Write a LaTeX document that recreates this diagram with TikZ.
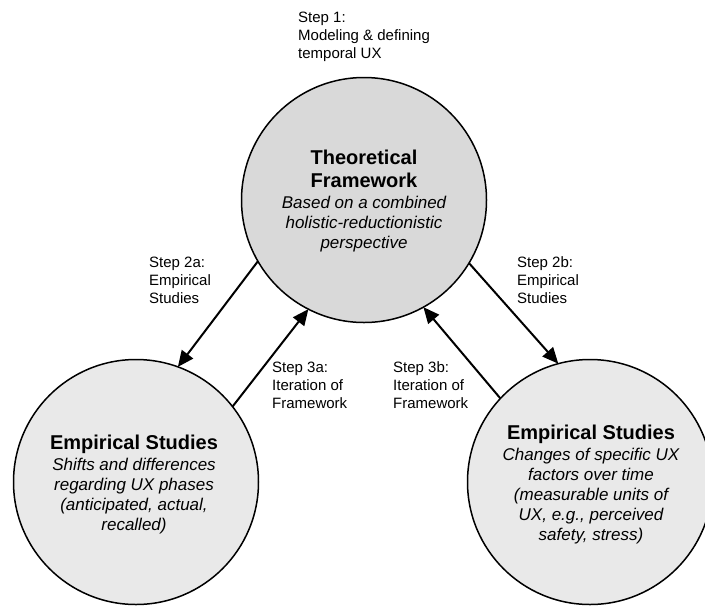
\documentclass[tikz,border=0pt]{standalone}
\usepackage{fontspec}
\setmainfont{Liberation Sans}
\usetikzlibrary{arrows.meta}
\definecolor{topfill}{RGB}{217,217,217}
\definecolor{botfill}{RGB}{233,233,233}
\begin{document}
\begin{tikzpicture}[x=1pt,y=-1pt,
  circ/.style={circle, draw=black, line width=1.5pt, minimum size=245pt, inner sep=0pt, outer sep=0pt},
  steplbl/.style={anchor=north west, inner sep=0pt, align=left, font=\fontsize{15}{18}\selectfont},
  ttl/.style={anchor=north, inner sep=0pt, align=center, font=\fontsize{20}{23}\selectfont\bfseries},
  desc/.style={anchor=north, inner sep=0pt, align=center, font=\fontsize{17}{20}\selectfont\itshape},
  arr/.style={line width=2pt, -{Triangle[length=16pt,width=14pt]}}]
\useasboundingbox (0,0) rectangle (705,606);

\node[circ, fill=topfill] (tf) at (364,200) {};
\node[circ, fill=botfill] (esl) at (136,482) {};
\node[circ, fill=botfill] (esr) at (590,482) {};

\node[ttl] (tft) at (364,149.5) {Theoretical\\Framework};
\node[desc] (tfd) at (364,195.6) {Based on a combined\\holistic-reductionistic\\perspective};

\node[ttl] (eslt) at (134,434.5) {Empirical Studies};
\node[desc] (esld) at (134,458) {Shifts and differences\\regarding UX phases\\(anticipated, actual,\\recalled)};

\node[ttl] (esrt) at (591,424.5) {Empirical Studies};
\node[desc] (esrd) at (591,448) {Changes of specific UX\\factors over time\\(measurable units of\\UX, e.g., perceived\\safety, stress)};

\node[steplbl] (s1) at (298,11.4) {Step 1:\\Modeling \& defining\\temporal UX};
\node[steplbl] (s2a) at (149,256.5) {Step 2a:\\Empirical\\Studies};
\node[steplbl] (s2b) at (517,256.5) {Step 2b:\\Empirical\\Studies};
\node[steplbl] (s3a) at (272,361.5) {Step 3a:\\Iteration of\\Framework};
\node[steplbl] (s3b) at (393,361.5) {Step 3b:\\Iteration of\\Framework};

\draw[arr] (tf.210.7) -- (esl.70.7);
\draw[arr] (esl.38.7) -- (tf.243);
\draw[arr] (esr.137.7) -- (tf.299);
\draw[arr] (tf.329.7) -- (esr.105.5);
\end{tikzpicture}
\end{document}
